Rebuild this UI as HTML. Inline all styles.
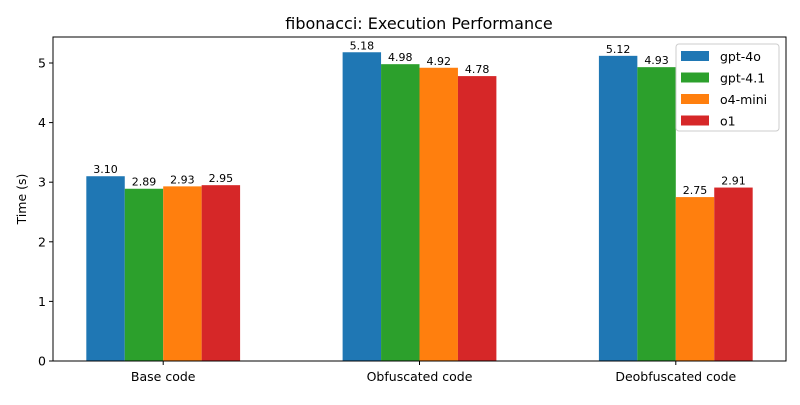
<!DOCTYPE html>
<html><head><meta charset="utf-8"><style>
body{margin:0;background:#fff;}
svg{font-family:"DejaVu Sans","Liberation Sans",sans-serif;}
</style></head><body>
<svg id="chart" width="800" height="400" viewBox="0 0 800 400">
<rect width="800" height="400" fill="#fff"/>
<text x="419" y="29" font-size="16" text-anchor="middle">fibonacci: Execution Performance</text>
<g id="bars"></g>
<g id="axes"></g>
<g id="legend"></g>
</svg>
<script>
const categories = ["Base code","Obfuscated code","Deobfuscated code"];
const seriesNames = ["gpt-4o","gpt-4.1","o4-mini","o1"];
const seriesColors = ["#1f77b4","#2ca02c","#ff7f0e","#d62728"];
const gpt4o = [3.10,5.18,5.12];
const gpt41 = [2.89,4.98,4.93];
const o4mini = [2.93,4.92,2.75];
const o1 = [2.95,4.78,2.91];
const yTicks = [0,1,2,3,4,5];
const series = [gpt4o,gpt41,o4mini,o1];

const L=53,R=786,T=37,B=361;
const xMin=-0.43,xMax=2.43,yMax=5.436;
const xs=v=>L+(v-xMin)/(xMax-xMin)*(R-L);
const ys=v=>B-v/yMax*(B-T);
const NS="http://www.w3.org/2000/svg";
function mk(tag,attrs,parent,text){const e=document.createElementNS(NS,tag);for(const k in attrs)e.setAttribute(k,attrs[k]);if(text!==undefined)e.textContent=text;parent.appendChild(e);return e;}
const gb=document.getElementById('bars'),ga=document.getElementById('axes'),gl=document.getElementById('legend');
const bw=0.15;
series.forEach((s,si)=>{
  s.forEach((v,ci)=>{
    const x0=xs(ci-0.3+si*bw),x1=xs(ci-0.3+(si+1)*bw);
    const r=mk('rect',{x:x0,y:ys(v),width:x1-x0,height:B-ys(v),fill:seriesColors[si]},gb);
    
    
    const t=mk('text',{x:(x0+x1)/2,y:ys(v)-3,'font-size':11,'text-anchor':'middle'},gb,v.toFixed(2));
    
    
  });
});
const frame=mk('rect',{x:L,y:T,width:R-L,height:B-T,fill:'none',stroke:'#000','stroke-width':1},ga);


yTicks.forEach(v=>{
  const y=ys(v);
  mk('line',{x1:L-4,x2:L,y1:y,y2:y,stroke:'#000'},ga);
  const t=mk('text',{x:L-7,y:y+4.5,'font-size':12.5,'text-anchor':'end'},ga,String(v));
  
  
});
categories.forEach((c,ci)=>{
  const x=xs(ci);
  mk('line',{x1:x,x2:x,y1:B,y2:B+4,stroke:'#000'},ga);
  const t=mk('text',{x:x,y:B+20,'font-size':12.5,'text-anchor':'middle'},ga,c);
  
  
});
const yt=mk('text',{x:0,y:0,'font-size':12.5,'text-anchor':'middle',transform:'translate(26,'+((T+B)/2)+') rotate(-90)'},ga,'Time (s)');


const lb=mk('rect',{x:676,y:44,width:103,height:87,fill:'#fff',stroke:'#ccc',rx:3},gl);


seriesNames.forEach((n,i)=>{
  const y=51+i*21.5;
  const g=mk('g',{},gl);
  
  
  mk('rect',{x:681,y:y,width:28,height:10,fill:seriesColors[i]},g);
  mk('text',{x:720,y:y+10,'font-size':12.5},g,n);
});
</script>
</body></html>
